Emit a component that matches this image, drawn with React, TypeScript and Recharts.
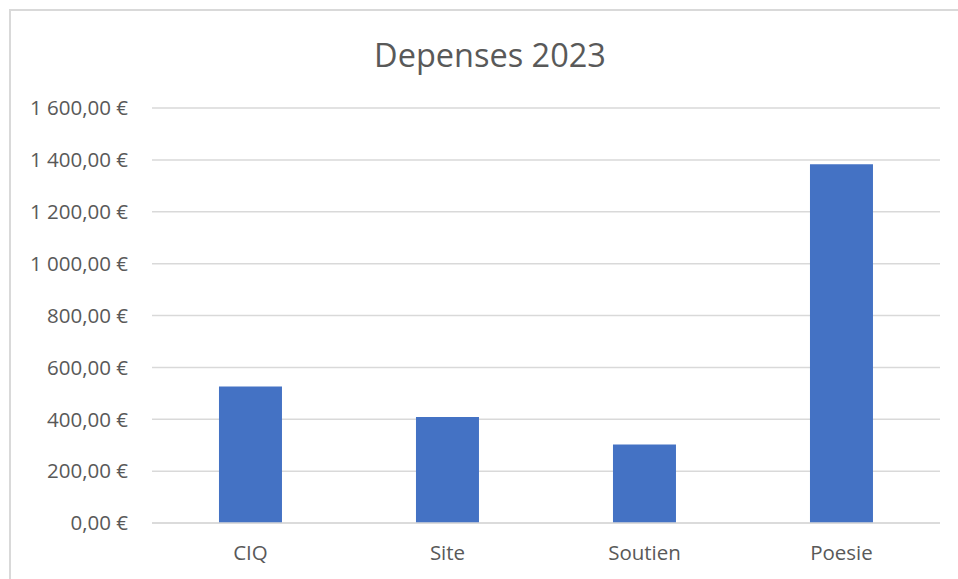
import React from 'react';
import { BarChart, Bar, XAxis, YAxis, CartesianGrid } from 'recharts';

const categories = ['CIQ', 'Site', 'Soutien', 'Poesie'];
const depenses = [526, 409, 303, 1383];
const yTicks = [0, 200, 400, 600, 800, 1000, 1200, 1400, 1600];

const data = categories.map((name, i) => ({ name, value: depenses[i] }));

const formatEuro = (v: number) => {
  const [int, dec] = v.toFixed(2).split('.');
  const grouped = int.replace(/\B(?=(\d{3})+(?!\d))/g, ' ');
  return `${grouped},${dec} €`;
};

const FONT = '"Open Sans", "Noto Sans", sans-serif';
const TEXT = '#595959';

export default function App() {
  return (
    <div style={{ position: 'absolute', left: 0, top: 0, width: 958, height: 579, overflow: 'hidden', background: '#fff' }}>
      <style>{`body{margin:0}`}</style>
      {/* chart frame, runs off the right and bottom edges */}
      <div
        style={{
          position: 'absolute',
          left: 9,
          top: 9,
          width: 1000,
          height: 700,
          border: '2px solid #d9d9d9',
          boxSizing: 'border-box',
        }}
      />
      <div
        style={{
          position: 'absolute',
          left: 0,
          top: 32,
          width: 980,
          textAlign: 'center',
          fontFamily: FONT,
          fontSize: 32.5,
          color: TEXT,
        }}
      >
        Depenses 2023
      </div>
      <div style={{ position: 'absolute', left: 0, top: 0 }}>
        <BarChart
          width={958}
          height={579}
          data={data}
          margin={{ top: 108, right: 18, left: 0, bottom: 12 }}
          barCategoryGap="34%"
        >
          <CartesianGrid vertical={false} stroke="#d9d9d9" strokeWidth={1.5} />
          <XAxis
            dataKey="name"
            height={44}
            axisLine={{ stroke: '#d9d9d9', strokeWidth: 1.5 }}
            tickLine={false}
            tickMargin={16}
            tick={{ fill: TEXT, fontSize: 20.5, fontFamily: FONT }}
          />
          <YAxis
            width={152}
            domain={[0, 1600]}
            ticks={yTicks}
            axisLine={false}
            tickLine={false}
            tickMargin={18}
            tickFormatter={formatEuro}
            tick={{ fill: TEXT, fontSize: 20.5, fontFamily: FONT }}
          />
          <Bar dataKey="value" fill="#4472c4" isAnimationActive={false} />
        </BarChart>
      </div>
    </div>
  );
}
